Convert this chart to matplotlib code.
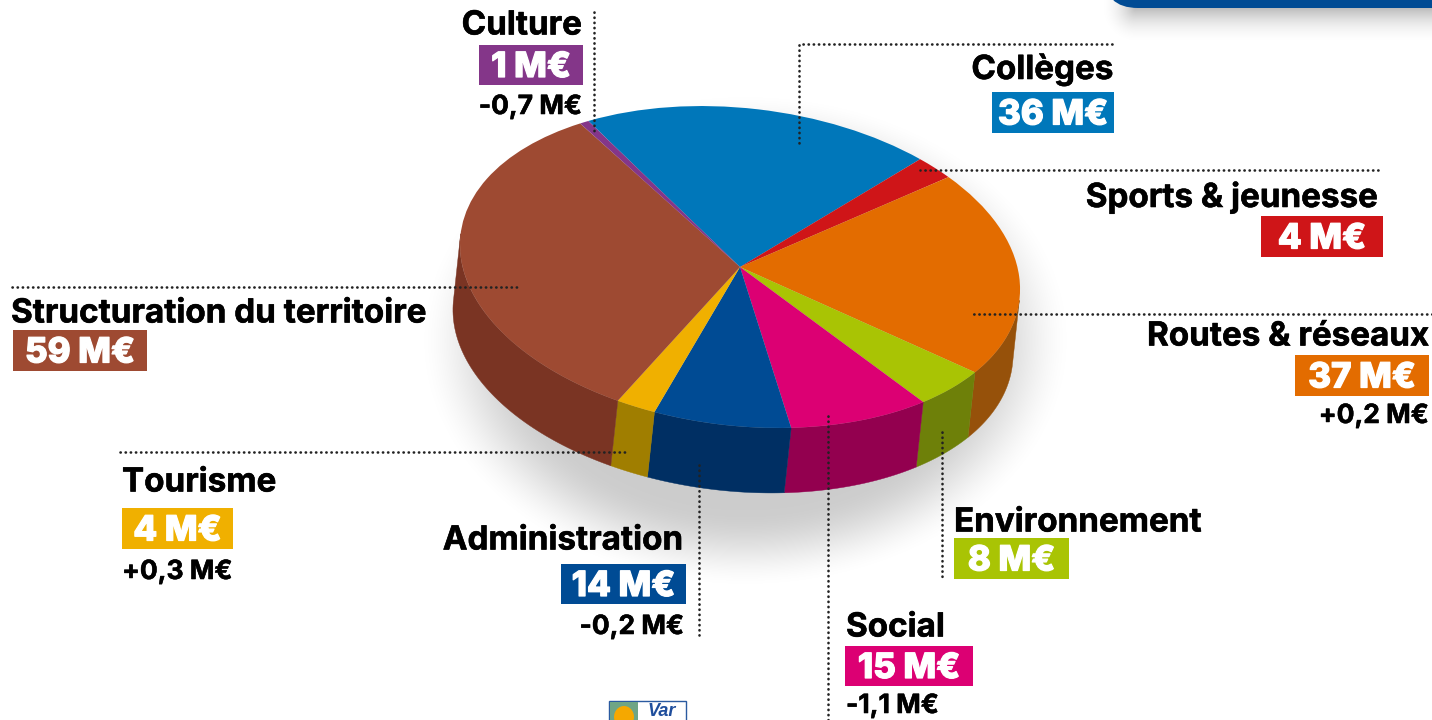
#camembert 3D : budget par secteur
import numpy as np
import matplotlib
matplotlib.use("Agg")
import matplotlib.pyplot as plt
from matplotlib.patches import Rectangle, Ellipse, FancyBboxPatch
from matplotlib.transforms import Affine2D
import matplotlib.patheffects as pe

names = ["Collèges", "Sports & jeunesse", "Routes & réseaux", "Environnement", "Social",
         "Administration", "Tourisme", "Structuration du territoire", "Culture"]
values = [36, 4, 37, 8, 15, 14, 4, 59, 1]
deltas = ["", "", "+0,2 M€", "", "-1,1 M€", "-0,2 M€", "+0,3 M€", "", "-0,7 M€"]

top_colors = ["#0077BA", "#CF1518", "#E36C00", "#A9C404", "#DC0073", "#004B94", "#F0B000", "#9E4A32", "#843689"]
side_colors = ["#005A8C", "#9A1012", "#96510A", "#6E8009", "#93004F", "#002F63", "#A07E00", "#7A3423", "#5F2763"]

W, H = 1432, 720
FONT = "Inter"

fig = plt.figure(figsize=(W / 100, H / 100), dpi=100)
ax = fig.add_axes([0, 0, 1, 1])

# ombres douces
yy, xx = np.mgrid[0:H, 0:W]
d = np.sqrt(((xx - 745) / 330.0) ** 2 + ((yy - 340) / 250.0) ** 2)
t = np.clip((1 - d) / 0.32, 0, 1)
alpha = 0.2 * t * t * (3 - 2 * t)
dx = np.clip(1135 - xx, 0, None)
dy = np.clip(yy - 8, 0, None)
t2 = np.clip(1 - np.sqrt(dx ** 2 + dy ** 2) / 36.0, 0, 1)
alpha = np.maximum(alpha, 0.26 * t2 * t2)
rgba = np.zeros((H, W, 4))
rgba[..., 3] = alpha
ax.imshow(rgba, extent=(0, W, H, 0), zorder=0, interpolation="bilinear")

# face du dessus : ellipse legerement inclinee
cx, cy, rx, ry, tilt, skew = 740, 267, 280, 159, 25, 5
off_x, off_y = -7, 65
start = 123.8
top_tf = Affine2D.from_values(rx, tilt, skew, -ry, cx, cy) + ax.transData
wedges, _ = ax.pie(values, colors=top_colors, startangle=start, counterclock=False, radius=1)
for w in wedges:
    w.set_transform(top_tf)
    w.set_zorder(3)
    w.set_linewidth(0)

# cote du camembert
ang = start - np.cumsum([0] + values) / sum(values) * 360
front_a, front_b = -183.0, -3.0
for i in range(len(values)):
    for shift in (0, -360):
        lo, hi = max(ang[i + 1] + shift, front_a), min(ang[i] + shift, front_b)
        if hi <= lo:
            continue
        th = np.radians(np.linspace(lo, hi, 60))
        px = cx + rx * np.cos(th) + skew * np.sin(th)
        py = cy - ry * np.sin(th) + tilt * np.cos(th)
        ax.fill(np.r_[px, px[::-1] + off_x], np.r_[py, py[::-1] + off_y],
                color=side_colors[i], lw=0.3, zorder=2)

ax.set_aspect("auto")
ax.set_xlim(0, W)
ax.set_ylim(H, 0)
ax.axis("off")

# traits pointilles
leaders = [([1112, 799, 799], [44, 44, 143]),
           ([1378, 920], [170, 170]),
           ([1432, 970], [314, 314]),
           ([942, 942], [432, 580]),
           ([828, 828], [416, 720]),
           ([699, 699], [465, 635]),
           ([120, 627], [452, 452]),
           ([12, 517], [287, 287]),
           ([594, 594], [12, 133])]
for lx, ly in leaders:
    ax.plot(lx, ly, color="#222222", lw=1.9, ls=(0, (0.1, 1.85)), dash_capstyle="round", zorder=4)

# (x du texte, alignement, y nom, boite x0 x1 y0 y1, y delta)
layout = [(1113, "right", 70, 992, 1114, 92, 133, 0),
          (1378, "right", 198, 1261, 1383, 216, 257, 0),
          (1429, "right", 337, 1295, 1429, 355, 396, 416),
          (954, "left", 523, 954, 1069, 538, 579, 0),
          (846, "left", 628, 845, 973, 646, 686, 706),
          (684, "right", 541, 561, 686, 564, 604, 627),
          (122, "left", 483, 122, 233, 508, 549, 572),
          (11, "left", 314, 13, 147, 330, 371, 0),
          (582, "right", 26, 479, 583, 45, 85, 107)]
for i, (tx, ha, ty, bx0, bx1, by0, by1, dy_txt) in enumerate(layout):
    ax.text(tx, ty, names[i], ha=ha, va="center", fontsize=23.9, fontweight="bold",
            family=FONT, color="black", zorder=6,
            path_effects=[pe.withStroke(linewidth=0.4, foreground="black")])
    ax.add_patch(Rectangle((bx0, by0), bx1 - bx0, by1 - by0, color=top_colors[i], lw=0, zorder=5))
    ax.text((bx0 + bx1) / 2, (by0 + by1) / 2 + 3, f"{values[i]} M€", ha="center", va="center",
            fontsize=25, fontweight="heavy", family=FONT, color="white", zorder=6,
            path_effects=[pe.withStroke(linewidth=0.9, foreground="white")])
    if deltas[i]:
        ax.text(tx, dy_txt, deltas[i], ha=ha, va="center", fontsize=19, fontweight="bold",
                family=FONT, color="black", zorder=6,
                path_effects=[pe.withStroke(linewidth=0.4, foreground="black")])

# bandeau en haut a droite
ax.add_patch(FancyBboxPatch((1104, -60), 460, 68, boxstyle="round,pad=0,rounding_size=34",
                            fc="#004B94", ec="none", zorder=5))

# logo du Var
ax.add_patch(Rectangle((609, 701), 77, 30, fc="white", ec="#2A5AA0", lw=1, zorder=5))
ax.add_patch(Rectangle((610, 702), 28, 28, fc="#6FA585", lw=0, zorder=5))
ax.add_patch(Ellipse((624, 717), 20, 22, fc="#F5A800", lw=0, zorder=6))
ax.text(662, 716, "Var", ha="center", va="baseline", fontsize=13, fontweight="bold", style="italic",
        family="Liberation Sans", color="#1F4E9C", zorder=6, clip_on=True)

fig.savefig("out.png", dpi=100)
